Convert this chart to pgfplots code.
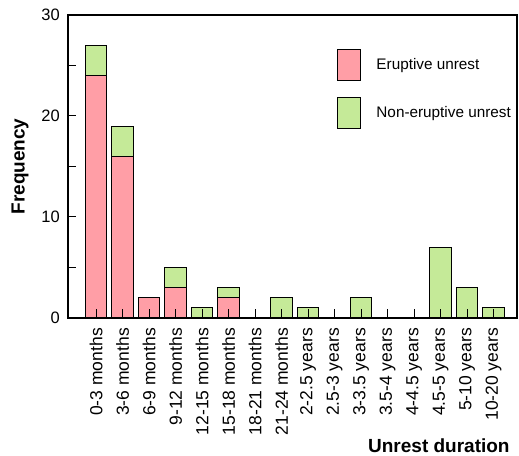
\documentclass[border=0pt]{standalone}
\usepackage{fontspec}
\setmainfont{Liberation Sans}
\usepackage{pgfplots}
\pgfplotsset{compat=1.18}
\definecolor{erupt}{RGB}{255,158,166}
\definecolor{nonerupt}{RGB}{197,234,152}

\pgfplotsset{
  boxlegend/.style={
    legend image code/.code={
      \draw[##1, line width=1pt] (0pt,-15.5pt) rectangle (23pt,15.5pt);
      \path[draw=none, fill=none] (39pt,0pt);
    }
  }
}

\begin{document}
\begin{tikzpicture}
\begin{axis}[
  name=ax,
  at={(0,0)}, anchor=south west,
  width=449pt, height=303pt, scale only axis,
  ybar stacked, bar width=0.815,
  xmin=-1.06, xmax=15.88,
  ymin=0, ymax=30,
  ytick={0,10,20,30}, minor ytick={5,15,25},
  xtick={0,...,15},
  xticklabels={0-3 months,3-6 months,6-9 months,9-12 months,12-15 months,15-18 months,18-21 months,21-24 months,2-2.5 years,2.5-3 years,3-3.5 years,3.5-4 years,4-4.5 years,4.5-5 years,5-10 years,10-20 years},
  tick align=inside,
  xtick pos=bottom, ytick pos=left,
  major tick length=8.5pt, minor tick length=8.5pt,
  tick style={black, line width=1pt},
  axis line style={line width=1.1pt},
  axis on top,
  /pgf/number format/assume math mode=true,
  xticklabel style={rotate=90, anchor=east, inner sep=0pt, font=\fontsize{17.5}{20}\selectfont},
  xticklabel shift=10pt,
  yticklabel style={inner sep=0pt, font=\fontsize{16.5}{19}\selectfont},
  yticklabel shift=8pt,
  ylabel={\textbf{Frequency}},
  ylabel style={at={(axis description cs:-0.107,0.5)}, anchor=center, font=\fontsize{19}{22}\selectfont},
  xlabel={\textbf{Unrest duration}},
  xlabel style={at={(axis description cs:0.984,-0.445)}, anchor=base east, inner sep=0pt, font=\fontsize{19}{22}\selectfont},
  legend style={at={(axis description cs:0.599,0.888)}, anchor=north west,
    draw=none, fill=none, inner sep=0pt, outer sep=0pt, row sep=16pt,
    nodes={inner sep=0pt}, cells={anchor=west},
    font=\fontsize{15.3}{18}\selectfont},
  legend cell align=left,
  boxlegend,
]
% eruptive unrest episodes per duration class
\addplot[fill=erupt, draw=black, line width=1pt, boxlegend] coordinates {
  (0,24) (1,16) (2,2) (3,3) (4,0) (5,2) (6,0) (7,0)
  (8,0) (9,0) (10,0) (11,0) (12,0) (13,0) (14,0) (15,0)};
\addlegendentry{Eruptive unrest}
% non-eruptive unrest episodes, stacked on top
\addplot[fill=nonerupt, draw=black, line width=1pt, boxlegend] coordinates {
  (0,3) (1,3) (2,0) (3,2) (4,1) (5,1) (6,0) (7,2)
  (8,1) (9,0) (10,2) (11,0) (12,0) (13,7) (14,3) (15,1)};
\addlegendentry{Non-eruptive unrest}
\end{axis}
\pgfresetboundingbox
\useasboundingbox ([shift={(-68pt,-138pt)}]ax.south west) rectangle ([shift={(2pt,15pt)}]ax.north east);
\end{tikzpicture}
\end{document}
